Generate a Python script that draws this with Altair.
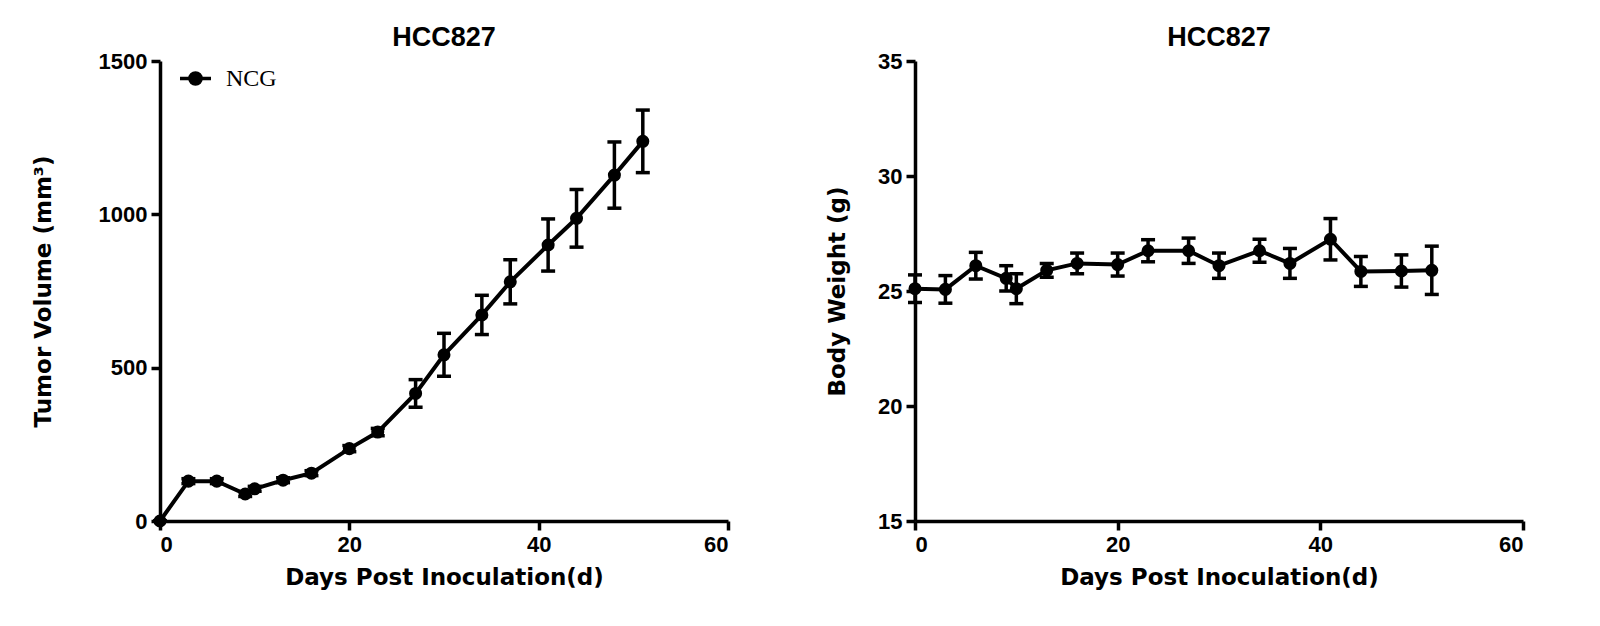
import altair as alt
import pandas as pd

days = [0, 3, 6, 9, 10, 13, 16, 20, 23, 27, 30, 34, 37, 41, 44, 48, 51]
tumor_volume = [0, 130, 130, 88, 105, 133, 156, 236, 290, 416, 542, 672, 780, 900, 987, 1128, 1238]
tumor_sem = [0, 8, 8, 8, 8, 8, 8, 10, 12, 45, 70, 64, 72, 85, 94, 108, 102]
body_weight = [25.1, 25.07, 26.1, 25.55, 25.1, 25.9, 26.2, 26.15, 26.75, 26.75, 26.1, 26.75, 26.2, 27.25, 25.85, 25.87, 25.9]
body_sem = [0.6, 0.6, 0.58, 0.55, 0.65, 0.3, 0.45, 0.5, 0.48, 0.55, 0.55, 0.5, 0.65, 0.9, 0.65, 0.7, 1.05]
group = "NCG"
x_ticks = [0, 20, 40, 60]
tv_ticks = [0, 500, 1000, 1500]
bw_ticks = [15, 20, 25, 30, 35]


def make_df(vals, sems):
    return pd.DataFrame({
        "day": days,
        "value": vals,
        "lo": [v - s for v, s in zip(vals, sems)],
        "hi": [v + s for v, s in zip(vals, sems)],
        "group": [group] * len(days),
    })


LEGEND_PATH = "M-1,0H1M-0.36,0A0.36,0.36,0,1,0,0.36,0A0.36,0.36,0,1,0,-0.36,0Z"
TITLE_FONT = "DejaVu Sans"
LABEL_FONT = "Liberation Sans"


def panel(df, ytitle, ydomain, yticks, w, h, ytitle_pad):
    base = alt.Chart(df)
    x = alt.X("day:Q", scale=alt.Scale(domain=[0, 60], nice=False),
              axis=alt.Axis(values=x_ticks, title="Days Post Inoculation(d)",
                            titlePadding=11, labelPadding=4))
    y = alt.Y("value:Q", scale=alt.Scale(domain=ydomain, nice=False, zero=False),
              axis=alt.Axis(values=yticks, title=ytitle, format="d",
                            titlePadding=ytitle_pad, labelPadding=4))
    color = alt.Color("group:N", scale=alt.Scale(range=["black"]),
                      legend=alt.Legend(title=None, orient="none", legendX=18, legendY=0,
                                        symbolType=LEGEND_PATH, symbolSize=961,
                                        symbolStrokeWidth=3.5, symbolStrokeColor="black",
                                        symbolFillColor="black",
                                        labelFont="Liberation Serif", labelFontSize=24,
                                        labelFontWeight="normal", labelOffset=13,
                                        labelColor="black"))
    err = base.mark_rule(strokeWidth=3.5, color="black").encode(
        x="day:Q", y=alt.Y("lo:Q"), y2="hi:Q")
    cap_lo = base.mark_tick(orient="horizontal", size=14, thickness=3.5, color="black",
                            opacity=1).encode(x="day:Q", y="lo:Q")
    cap_hi = base.mark_tick(orient="horizontal", size=14, thickness=3.5, color="black",
                            opacity=1).encode(x="day:Q", y="hi:Q")
    line = base.mark_line(strokeWidth=4, color="black").encode(x=x, y=y)
    pts = base.mark_point(filled=True, size=170, opacity=1).encode(x=x, y=y, color=color)
    return alt.layer(err, cap_lo, cap_hi, line, pts).properties(
        width=w, height=h, title="HCC827")


left = panel(make_df(tumor_volume, tumor_sem), "Tumor Volume (mm³)", [0, 1500], tv_ticks, 568, 460, 43)
right = panel(make_df(body_weight, body_sem), "Body Weight (g)", [15, 35], bw_ticks, 608, 460, 28)

chart = alt.hconcat(left, right, spacing=96).resolve_scale(y="independent").properties(
    padding={"left": 24, "top": 16, "right": 5, "bottom": 5}
).configure_view(stroke=None).configure_axis(
    domainColor="black", domainWidth=3.5, tickColor="black", tickWidth=3.5, tickSize=9,
    grid=False, labelFont=LABEL_FONT, labelFontWeight="bold", labelFontSize=22,
    labelColor="black", titleFont=TITLE_FONT, titleFontWeight="bold",
    titleFontSize=23, titleColor="black"
).configure_title(
    font=LABEL_FONT, fontWeight="bold", fontSize=27, color="black", anchor="middle",
    offset=-2
)

chart.save("out.html", embed_options={"renderer": "svg", "actions": False})
